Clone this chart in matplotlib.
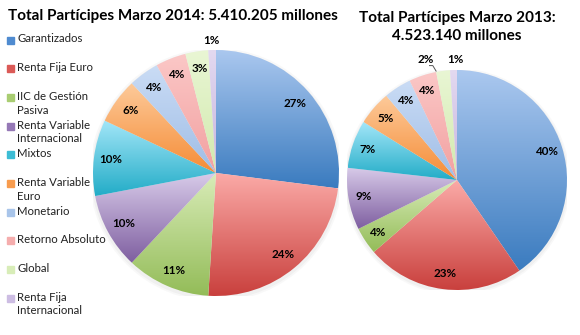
import matplotlib

matplotlib.use("Agg")
import matplotlib.pyplot as plt
import numpy as np
from matplotlib.colors import LinearSegmentedColormap
from matplotlib.patches import Circle, Rectangle

plt.rcParams["font.family"] = ["Lato", "DejaVu Sans"]

categorias = [
    "Garantizados",
    "Renta Fija Euro",
    "IIC de Gestión\nPasiva",
    "Renta Variable\nInternacional",
    "Mixtos",
    "Renta Variable\nEuro",
    "Monetario",
    "Retorno Absoluto",
    "Global",
    "Renta Fija\nInternacional",
]
cuota_2014 = [27, 24, 11, 10, 10, 6, 4, 4, 3, 1]
cuota_2013 = [40, 23, 4, 9, 7, 5, 4, 4, 2, 1]

titulo_2014 = "Total Partícipes Marzo 2014: 5.410.205 millones"
titulo_2013 = "Total Partícipes Marzo 2013:\n4.523.140 millones"

# (top, bottom) of each slice's vertical gradient
degradados = [
    ("#abc8ef", "#3a7bbf"),
    ("#fbaaa7", "#c9403d"),
    ("#d9ecb8", "#93bc58"),
    ("#d8cbe9", "#7e5ea0"),
    ("#a3e6f8", "#22acc7"),
    ("#fdca9a", "#f58c36"),
    ("#cadcf5", "#9fbde6"),
    ("#fbc8c7", "#f2a0a0"),
    ("#e9f6d4", "#d2e9ae"),
    ("#e3d9f0", "#c8b6df"),
]
marcador = ["#4f8bd0", "#db5a57", "#a9cd72", "#9578b6", "#3dbdd5",
            "#f89c4e", "#a9c5ea", "#f5adad", "#d8edb8", "#cdbde3"]

W, H = 580, 335
fig = plt.figure(figsize=(W / 100, H / 100), dpi=100)


def pie_axes(cx, cy, r):
    return fig.add_axes([(cx - r) / W, (H - cy - r) / H, 2 * r / W, 2 * r / H])


def draw_pie(ax, values, outside):
    # soft drop shadow under the disc
    for k, a in [(1.03, 0.05), (1.015, 0.07)]:
        ax.add_patch(Circle((0, -0.015), k, color="#888888", alpha=a, lw=0, zorder=0))
    wedges, _ = ax.pie(values, startangle=90, counterclock=False, radius=1,
                       wedgeprops=dict(linewidth=0))
    grad = np.linspace(0, 1, 256).reshape(-1, 1)
    total = sum(values)
    ang = 90.0
    for i, (w, v) in enumerate(zip(wedges, values)):
        top, bot = degradados[i]
        cmap = LinearSegmentedColormap.from_list("g", [top, bot])
        b = w.get_path().get_extents()
        w.set_facecolor("none")
        im = ax.imshow(grad, cmap=cmap, aspect="auto", origin="upper",
                       extent=(b.x0, b.x1, b.y0, b.y1), zorder=1)
        im.set_clip_path(w)
        span = 360.0 * v / total
        mid = np.deg2rad(ang - span / 2)
        ang -= span
        if i in outside:
            dx, dy = outside[i]
            x, y = 1.08 * np.cos(mid) + dx, 1.08 * np.sin(mid) + dy
        else:
            x, y = 0.86 * np.cos(mid), 0.86 * np.sin(mid)
        ax.text(x, y, f"{v}%", ha="center", va="center", fontsize=8.4,
                fontweight="bold", color="black", zorder=5)
    ax.set_xlim(-1, 1)
    ax.set_ylim(-1, 1)
    ax.set_aspect("equal")
    ax.axis("off")


ax1 = pie_axes(216, 173, 123)
draw_pie(ax1, cuota_2014, {9: (0.0, 0.0)})

ax2 = pie_axes(457, 180, 110)
draw_pie(ax2, cuota_2013, {8: (-0.15, 0.02), 9: (0.02, 0.02)})
# leader line for the 2% slice
ax2.plot([-0.25, -0.22, -0.19], [1.04, 1.04, 0.99], color="#555555", lw=0.7,
         zorder=5, clip_on=False)

fig.text(8 / W, 1 - 16 / H, titulo_2014, fontsize=11, fontweight="bold",
         ha="left", va="center", color="black")
fig.text(457 / W, 1 - 27 / H, titulo_2013, fontsize=11, fontweight="bold",
         ha="center", va="center", color="black", linespacing=1.45)

# legend down the left edge
y = 40
for nombre, c in zip(categorias, marcador):
    fig.patches.append(Rectangle((7 / W, 1 - (y + 3.5) / H), 7 / W, 7 / H,
                                 transform=fig.transFigure, color=c))
    fig.text(17 / W, 1 - (y - 6.5) / H, nombre, fontsize=8.2, ha="left",
             va="top", color="#222222", linespacing=1.3)
    y += 28.7

fig.savefig("out.png", dpi=100, facecolor="white")
